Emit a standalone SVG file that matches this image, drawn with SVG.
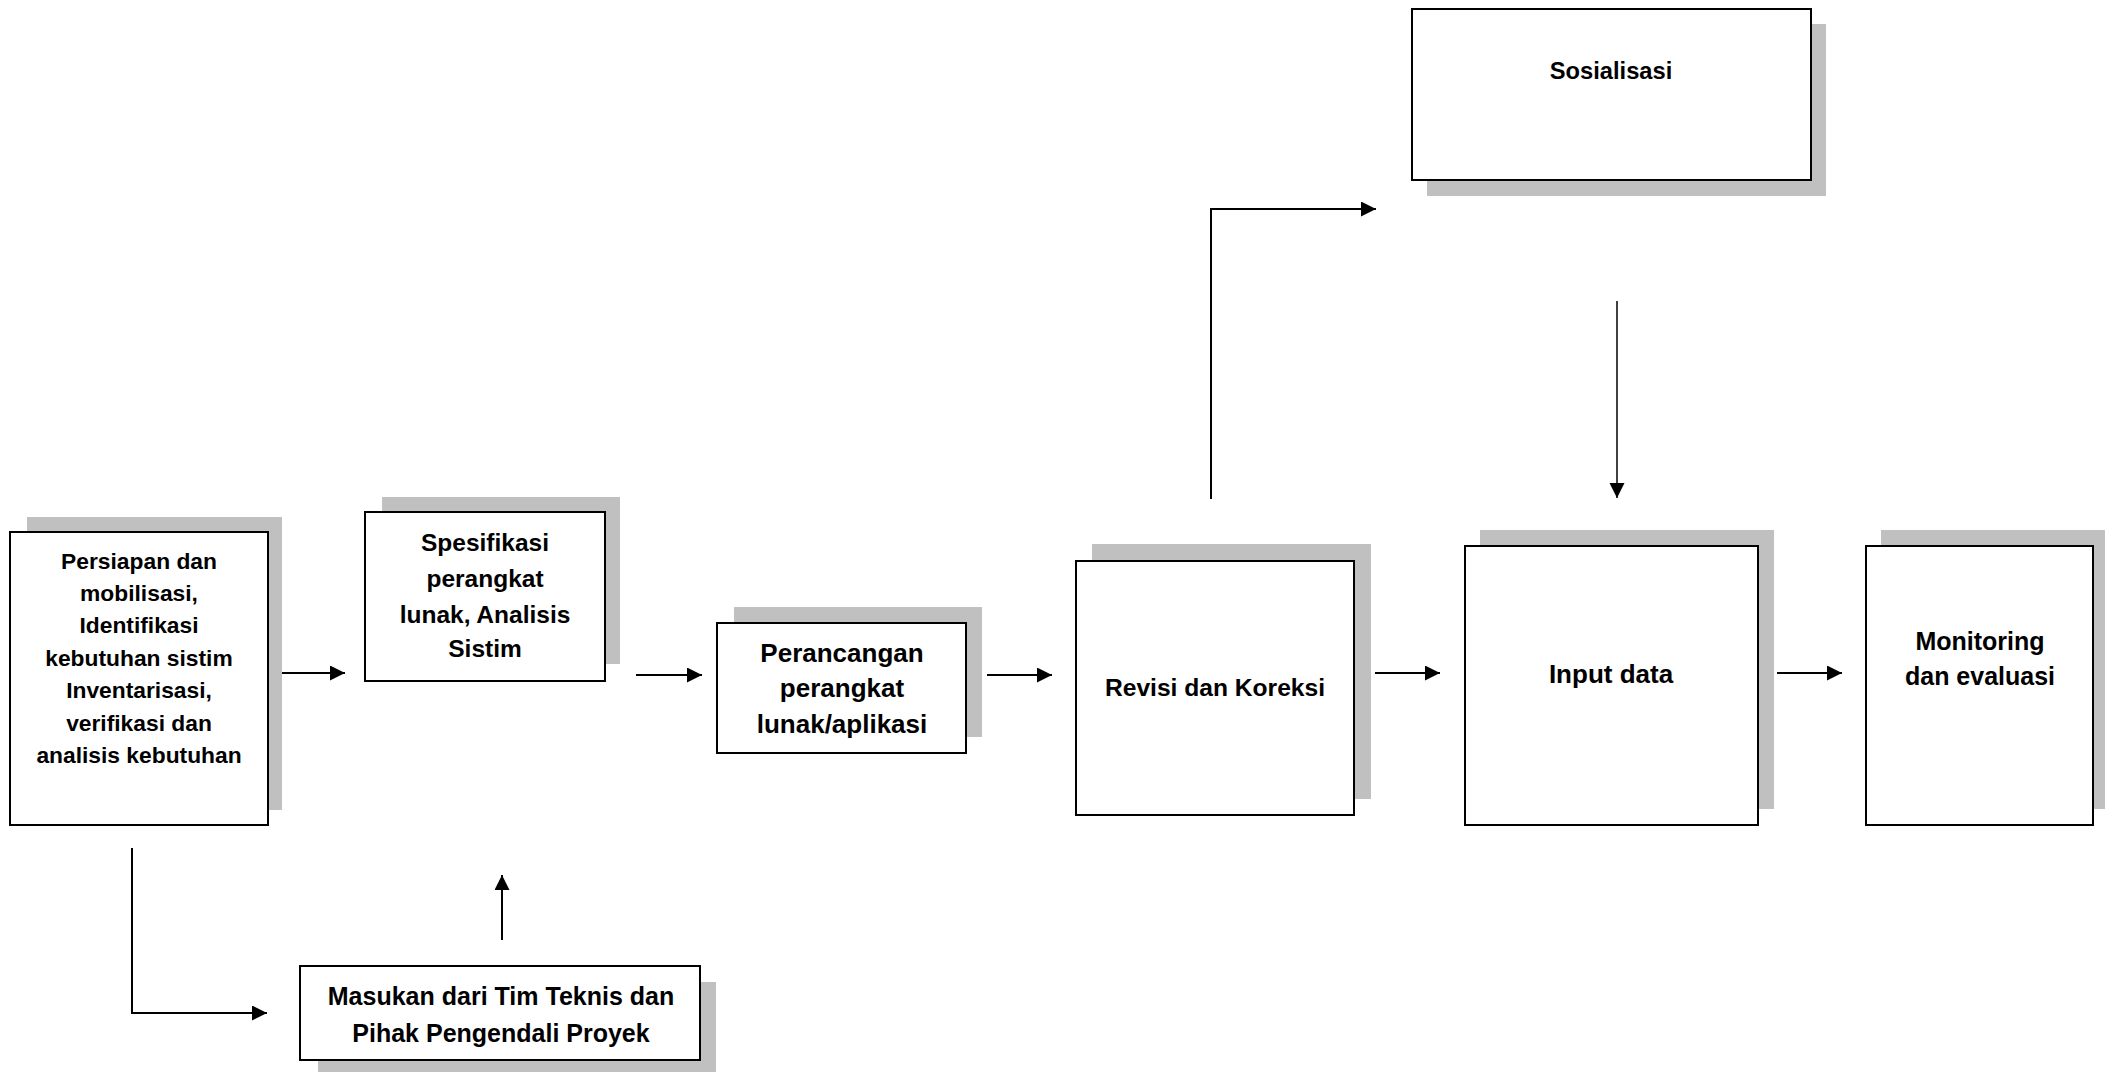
<svg xmlns="http://www.w3.org/2000/svg" width="2105" height="1072" viewBox="0 0 2105 1072">
<style>
.bg{fill:#ffffff}
.sh{fill:#c0c0c0}
.bx{fill:#ffffff;stroke:#000000;stroke-width:2}
.t{font-family:"Liberation Sans",Arial,sans-serif;font-weight:bold;fill:#000000;text-anchor:middle}
.ln{fill:none;stroke:#000000;stroke-width:2}
</style>
<defs>
<marker id="ah" markerUnits="userSpaceOnUse" markerWidth="16" markerHeight="16" refX="15" refY="7.5" orient="auto">
<path d="M0,0 L15,7.5 L0,15 z" fill="#000000"/>
</marker>
</defs>
<rect class="bg" x="0" y="0" width="2105" height="1072"/>

<g id="node-persiapan">
<rect class="sh" x="27" y="517" width="255" height="293"/>
<rect class="bx" x="10" y="532" width="258" height="293"/>
<g class="t" font-size="22.8">
<text x="139" y="569">Persiapan dan</text>
<text x="139" y="601">mobilisasi,</text>
<text x="139" y="633">Identifikasi</text>
<text x="139" y="666">kebutuhan sistim</text>
<text x="139" y="698">Inventarisasi,</text>
<text x="139" y="731">verifikasi dan</text>
<text x="139" y="763">analisis kebutuhan</text>
</g>
</g>

<g id="node-spesifikasi">
<rect class="sh" x="382" y="497" width="238" height="167"/>
<rect class="bx" x="365" y="512" width="240" height="169"/>
<g class="t" font-size="24.5">
<text x="485" y="551">Spesifikasi</text>
<text x="485" y="587">perangkat</text>
<text x="485" y="623">lunak, Analisis</text>
<text x="485" y="657">Sistim</text>
</g>
</g>

<g id="node-perancangan">
<rect class="sh" x="734" y="607" width="248" height="130"/>
<rect class="bx" x="717" y="623" width="249" height="130"/>
<g class="t" font-size="26">
<text x="842" y="662">Perancangan</text>
<text x="842" y="697">perangkat</text>
<text x="842" y="733">lunak/aplikasi</text>
</g>
</g>

<g id="node-revisi">
<rect class="sh" x="1092" y="544" width="279" height="255"/>
<rect class="bx" x="1076" y="561" width="278" height="254"/>
<text class="t" font-size="24.6" x="1215" y="696">Revisi dan Koreksi</text>
</g>

<g id="node-input">
<rect class="sh" x="1480" y="530" width="294" height="279"/>
<rect class="bx" x="1465" y="546" width="293" height="279"/>
<text class="t" font-size="26" x="1611" y="683">Input data</text>
</g>

<g id="node-monitoring">
<rect class="sh" x="1881" y="530" width="230" height="279"/>
<rect class="bx" x="1866" y="546" width="227" height="279"/>
<g class="t" font-size="25">
<text x="1980" y="650">Monitoring</text>
<text x="1980" y="685">dan evaluasi</text>
</g>
</g>

<g id="node-sosialisasi">
<rect class="sh" x="1427" y="24" width="399" height="172"/>
<rect class="bx" x="1412" y="9" width="399" height="171"/>
<text class="t" font-size="23.7" x="1611" y="79">Sosialisasi</text>
</g>

<g id="node-masukan">
<rect class="sh" x="318" y="982" width="398" height="95"/>
<rect class="bx" x="300" y="966" width="400" height="94"/>
<g class="t" font-size="25">
<text x="501" y="1005">Masukan dari Tim Teknis dan</text>
<text x="501" y="1042">Pihak Pengendali Proyek</text>
</g>
</g>

<g id="connectors">
<line class="ln" x1="282" y1="673" x2="345" y2="673" marker-end="url(#ah)"/>
<line class="ln" x1="636" y1="675" x2="702" y2="675" marker-end="url(#ah)"/>
<line class="ln" x1="987" y1="675" x2="1052" y2="675" marker-end="url(#ah)"/>
<line class="ln" x1="1375" y1="673" x2="1440" y2="673" marker-end="url(#ah)"/>
<line class="ln" x1="1777" y1="673" x2="1842" y2="673" marker-end="url(#ah)"/>
<polyline class="ln" points="1211,499 1211,209 1376,209" marker-end="url(#ah)"/>
<line class="ln" style="stroke-width:1.5" x1="1617" y1="301" x2="1617" y2="498" marker-end="url(#ah)"/>
<polyline class="ln" points="132,848 132,1013 267,1013" marker-end="url(#ah)"/>
<line class="ln" x1="502" y1="940" x2="502" y2="875" marker-end="url(#ah)"/>
</g>
</svg>
